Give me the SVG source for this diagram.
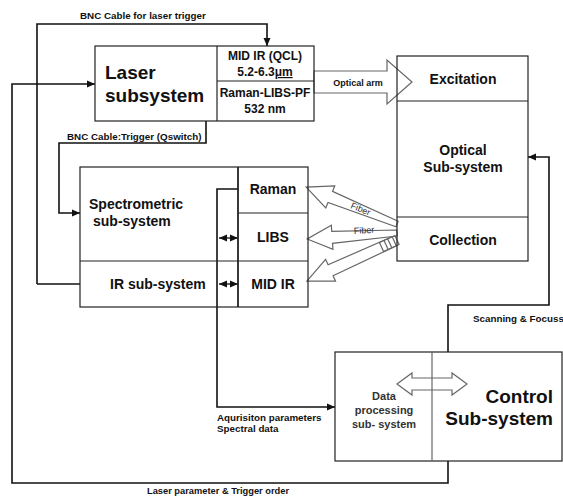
<svg xmlns="http://www.w3.org/2000/svg" width="563" height="497" viewBox="0 0 563 497">
<style>
.box{fill:none;stroke:#222;stroke-width:1.2}
.div{stroke:#222;stroke-width:1.2}
.con{fill:none;stroke:#111;stroke-width:1.6}
.hol{fill:none;stroke:#666;stroke-width:1.2;stroke-linejoin:miter}
text{font-family:"Liberation Sans",Arial,sans-serif;font-weight:bold;fill:#111}
.big{font-size:19px}
.mid{font-size:14px}
.sub{font-size:12px}
.dp{font-size:11px;fill:#333}
.lab{font-size:9.8px}
.fib{font-size:9px;font-weight:normal;fill:#333}
.c{text-anchor:middle}
</style>
<defs>
<marker id="ah" markerUnits="userSpaceOnUse" viewBox="0 0 8 8" refX="8" refY="4" markerWidth="8" markerHeight="8" orient="auto-start-reverse"><path d="M0,0.5 L8,4 L0,7.5 z" fill="#111"/></marker>
</defs>
<rect width="563" height="497" fill="#fff"/>

<g id="connectors">
<polyline class="con" points="37,284 37,24 267,24 267,46" marker-end="url(#ah)"/>
<line class="con" x1="37" y1="284" x2="80" y2="284"/>
<polyline class="con" points="206,121 206,143 59,143 59,213 80,213" marker-end="url(#ah)"/>
<polyline class="con" points="448,461 448,483 12,483 12,84 95,84" marker-end="url(#ah)"/>
<polyline class="con" points="448,352 448,305 549,305 549,157 528,157" marker-end="url(#ah)"/>
<polyline class="con" points="238,189 217,189 217,407 335,407" marker-end="url(#ah)"/>
<line class="con" x1="219" y1="238" x2="238" y2="238" marker-start="url(#ah)" marker-end="url(#ah)" style="stroke-width:1.3"/>
<line class="con" x1="219" y1="284" x2="238" y2="284" marker-start="url(#ah)" marker-end="url(#ah)" style="stroke-width:1.3"/>
<polygon class="hol" points="314,71 387,71 387,60 412,82 387,104 387,93 314,93"/>
<text class="lab c" x="358" y="86" style="font-size:9px">Optical arm</text>
<g transform="translate(397,224) rotate(-157.9)">
<polygon class="hol" points="0,-3 72,-6 72,-12 98,0 72,12 72,6 0,3"/>
</g>
<g transform="translate(397,233) rotate(176.2)">
<polygon class="hol" points="0,-3 65,-6 65,-12 90,0 65,12 65,6 0,3"/>
</g>
<g transform="translate(397,240) rotate(155.5)">
<polygon class="hol" points="0,-5 73,-6 73,-12 99,0 73,12 73,6 0,5"/>
<rect class="hol" x="3" y="-5" width="14" height="10"/>
<line class="hol" x1="8" y1="-5" x2="8" y2="5"/>
<line class="hol" x1="12" y1="-5" x2="12" y2="5"/>
</g>
<text class="fib" transform="translate(350,208) rotate(22)">Fiber</text>
<text class="fib" transform="translate(354,234) rotate(-4)">Fiber</text>
<text class="lab" x="80" y="19">BNC Cable for laser trigger</text>
<text class="lab" x="67" y="140">BNC Cable:Trigger (Qswitch)</text>
<text class="lab" x="217" y="421">Aqurisiton parameters</text>
<text class="lab" x="217" y="432">Spectral data</text>
<text class="lab" x="473" y="322">Scanning &amp; Focuss</text>
<text class="lab" x="218" y="494" text-anchor="middle" style="font-size:9.3px">Laser parameter &amp; Trigger order</text>
</g>

<g id="laser">
<rect class="box" x="95" y="46" width="219" height="75"/>
<line class="div" x1="217" y1="46" x2="217" y2="121"/>
<line class="div" x1="217" y1="81" x2="314" y2="81"/>
<text class="big" x="105" y="79">Laser</text>
<text class="big" x="105" y="102">subsystem</text>
<text class="sub c" x="265" y="60">MID IR (QCL)</text>
<text class="sub c" x="265" y="76">5.2-6.3<tspan text-decoration="underline">μm</tspan></text>
<text class="sub c" x="265" y="97">Raman-LIBS-PF</text>
<text class="sub c" x="265" y="113">532 nm</text>
</g>

<g id="optical">
<rect class="box" x="397" y="56" width="131" height="205"/>
<line class="div" x1="397" y1="101" x2="528" y2="101"/>
<line class="div" x1="397" y1="217" x2="528" y2="217"/>
<text class="mid c" x="463" y="84">Excitation</text>
<text class="mid c" x="463" y="155">Optical</text>
<text class="mid c" x="463" y="172">Sub-system</text>
<text class="mid c" x="463" y="245">Collection</text>
</g>

<g id="spectrometric">
<rect class="box" x="80" y="167" width="228" height="140"/>
<line class="div" x1="238" y1="167" x2="238" y2="307" style="stroke-width:1.8"/>
<line class="div" x1="238" y1="213" x2="308" y2="213"/>
<line class="div" x1="80" y1="261" x2="308" y2="261"/>
<text class="mid" x="89" y="209">Spectrometric</text>
<text class="mid" x="93" y="226">sub-system</text>
<text class="mid" x="110" y="289">IR sub-system</text>
<text class="mid c" x="273" y="194">Raman</text>
<text class="mid c" x="273" y="242">LIBS</text>
<text class="mid c" x="273" y="289">MID IR</text>
</g>

<g id="control">
<rect class="box" x="335" y="352" width="227" height="109"/>
<line x1="432" y1="352" x2="432" y2="461" stroke="#666" stroke-width="1.2"/>
<polygon class="hol" points="397,384 412,373 412,378 452,378 452,373 467,384 452,395 452,390 412,390 412,395"/>
<text class="dp c" x="384" y="400">Data</text>
<text class="dp c" x="384" y="414">processing</text>
<text class="dp c" x="384" y="428">sub- system</text>
<text class="big" x="553" y="403" text-anchor="end">Control</text>
<text class="big" x="553" y="425" text-anchor="end">Sub-system</text>
</g>
</svg>
